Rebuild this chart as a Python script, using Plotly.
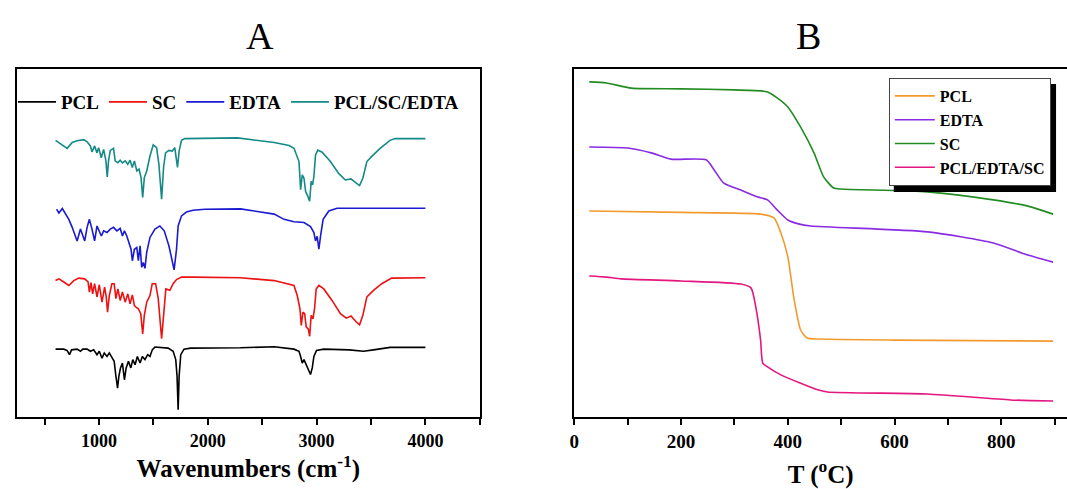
import plotly.graph_objects as go

# ---------------- Panel A : FTIR spectra (transmittance, a.u.) ----------------
pcl_wn = [600, 676, 707, 728, 747, 798, 829, 850, 890, 920, 950, 981, 1002, 1027, 1048, 1073, 1094,
          1118, 1139, 1155, 1170, 1182, 1197, 1215, 1233, 1249, 1270, 1292, 1310, 1331, 1352, 1377,
          1398, 1422, 1447, 1468, 1489, 1514, 1635, 1681, 1705, 1717, 1727, 1736, 1751, 1781, 1842,
          2300, 2610, 2792, 2838, 2853, 2868, 2884, 2899, 2923, 2944, 2960, 2975, 2999, 3066, 3300,
          3431, 3523, 3675, 4000]
pcl_t = [19.5, 19.5, 19.1, 17.9, 19.3, 19.5, 18.9, 19.5, 19.5, 18.9, 19.3, 17.9, 18.9, 16.9, 18.4,
         17.4, 18.4, 16.9, 16.0, 11.7, 8.3, 11.7, 14.1, 15.5, 10.7, 14.1, 16.0, 14.1, 16.5, 15.0,
         17.4, 15.5, 17.4, 16.5, 17.9, 17.4, 19.3, 20.1, 19.8, 18.9, 16.5, 11.7, 2.1, 11.7, 17.9,
         19.5, 19.8, 19.9, 20.2, 19.5, 18.9, 17.4, 15.5, 16.5, 15.5, 14.1, 12.2, 14.1, 17.4, 19.1,
         19.5, 19.3, 18.9, 19.3, 20.0, 20.0]

sc_wn = [600, 631, 676, 722, 768, 813, 868, 899, 911, 926, 941, 959, 981, 1002, 1027, 1051, 1066,
         1078, 1094, 1118, 1139, 1155, 1173, 1194, 1215, 1240, 1264, 1285, 1306, 1325, 1340, 1361,
         1383, 1401, 1416, 1438, 1468, 1489, 1520, 1544, 1575, 1596, 1614, 1651, 1681, 1712, 1758,
         1864, 1970, 2300, 2610, 2731, 2792, 2822, 2847, 2859, 2874, 2890, 2905, 2923, 2936, 2950,
         2966, 2981, 2996, 3021, 3066, 3142, 3219, 3273, 3316, 3365, 3395, 3425, 3462, 3523, 3599,
         3690, 4000]
sc_t = [19.2, 19.7, 18.8, 17.8, 19.2, 19.9, 19.7, 18.8, 15.9, 18.6, 15.4, 18.3, 14.5, 18.0, 13.0,
        17.3, 14.5, 10.1, 14.9, 18.3, 18.3, 14.0, 16.8, 13.5, 15.9, 13.0, 15.4, 12.5, 15.1, 12.0,
        11.6, 11.1, 9.7, 3.9, 9.2, 13.0, 14.9, 18.3, 18.3, 14.0, 2.5, 11.1, 16.8, 16.4, 18.3, 19.5,
        20.2, 20.2, 20.2, 20.0, 19.2, 18.3, 17.8, 14.9, 11.1, 6.3, 10.1, 9.7, 5.8, 5.3, 3.2, 9.2,
        8.2, 11.1, 16.8, 17.8, 16.8, 13.5, 9.7, 8.4, 9.0, 7.3, 6.5, 9.2, 14.5, 16.4, 18.3, 19.9,
        20.0]

edta_wn = [610, 631, 662, 686, 722, 753, 798, 829, 844, 868, 890, 911, 935, 959, 981, 1002, 1021,
           1042, 1073, 1103, 1133, 1164, 1194, 1215, 1233, 1255, 1276, 1294, 1306, 1325, 1347, 1361,
           1377, 1392, 1407, 1422, 1438, 1468, 1514, 1559, 1599, 1642, 1672, 1690, 1712, 1727, 1758,
           1803, 1864, 1973, 2300, 2610, 2701, 2792, 2884, 2944, 2975, 2990, 3005, 3021, 3036, 3060,
           3112, 3188, 4000]
edta_t = [19.7, 18.6, 19.9, 18.7, 16.8, 14.5, 10.6, 14.0, 12.5, 10.6, 14.5, 16.8, 14.0, 10.6, 14.9,
          13.5, 12.0, 13.5, 13.0, 14.0, 14.5, 13.5, 14.2, 12.0, 13.5, 12.0, 9.7, 8.2, 4.9, 8.2, 8.7,
          4.9, 9.2, 3.0, 4.4, 2.7, 7.3, 11.6, 14.0, 14.9, 13.5, 9.2, 4.9, 2.3, 8.2, 14.9, 17.8, 18.9,
          19.4, 19.7, 19.8, 18.3, 16.8, 16.1, 15.9, 14.7, 13.0, 10.6, 11.9, 8.2, 12.0, 16.8, 19.2,
          20.0, 20.0]

blend_wn = [600, 646, 707, 753, 798, 859, 890, 920, 935, 959, 981, 996, 1020, 1042, 1063, 1075, 1087,
            1103, 1133, 1148, 1173, 1194, 1215, 1240, 1264, 1285, 1306, 1325, 1347, 1368, 1386, 1401,
            1416, 1438, 1468, 1498, 1529, 1550, 1575, 1593, 1611, 1642, 1672, 1696, 1721, 1736, 1758,
            1788, 2000, 2272, 2610, 2747, 2792, 2822, 2838, 2853, 2868, 2884, 2899, 2920, 2936, 2950,
            2963, 2975, 2990, 3011, 3051, 3127, 3203, 3264, 3316, 3365, 3395, 3425, 3462, 3507, 3584,
            3675, 3721, 4000]
blend_t = [19.5, 18.4, 17.2, 18.9, 19.4, 19.7, 19.1, 17.9, 16.2, 17.9, 15.9, 17.4, 14.5, 16.9, 13.6,
           9.0, 13.6, 16.6, 17.2, 13.6, 13.1, 13.8, 13.0, 13.6, 12.6, 13.8, 11.7, 13.6, 10.7, 11.2, 8.8,
           3.1, 8.8, 10.7, 15.0, 18.2, 17.4, 12.6, 2.6, 11.7, 15.9, 16.6, 16.4, 17.4, 11.7, 16.4, 19.5,
           20.0, 20.1, 20.2, 18.9, 18.0, 17.2, 14.4, 13.4, 5.3, 9.6, 8.6, 4.8, 3.4, 2.0, 7.7, 6.7, 9.1,
           15.3, 16.7, 16.1, 13.4, 10.0, 8.1, 8.4, 7.2, 6.5, 8.6, 13.4, 14.9, 17.2, 19.5, 20.0, 20.0]

ftir_names = ["PCL", "SC", "EDTA", "PCL/SC/EDTA"]
ftir_colors = ["#000000", "#ee1111", "#1a1ad0", "#138a85"]
ftir_offsets = [0, 20, 40, 60]

# ---------------- Panel B : TGA curves ----------------
tga_pcl_T = [28, 200, 349, 374, 387, 400, 411, 424, 436, 461, 600, 897]
tga_pcl_w = [59.2, 58.8, 58.3, 57.2, 52.9, 46.0, 34.5, 25.0, 22.7, 22.4, 22.1, 21.8]

tga_edta_T = [28, 100, 144, 181, 247, 262, 280, 312, 344, 362, 380, 400, 420, 443, 662, 785, 848, 897]
tga_edta_w = [77.6, 77.3, 75.9, 74.1, 73.9, 71.0, 67.2, 65.2, 63.2, 62.4, 59.5, 56.6, 55.5, 54.9,
              53.2, 50.0, 46.6, 44.5]

tga_sc_T = [28, 60, 107, 200, 300, 350, 362, 380, 400, 424, 449, 467, 486, 500, 661, 785, 850, 897]
tga_sc_w = [96.3, 96.0, 94.5, 94.3, 94.0, 93.7, 93.4, 91.7, 89.1, 83.3, 75.9, 69.0, 65.8, 65.5,
            64.7, 62.4, 60.6, 58.3]

tga_blend_T = [28, 60, 88, 200, 312, 331, 340, 349, 353, 362, 387, 456, 474, 661, 817, 897]
tga_blend_w = [40.5, 40.2, 39.7, 39.1, 38.2, 37.1, 31.6, 22.1, 15.5, 14.4, 12.1, 7.8, 7.2, 6.6, 4.9, 4.6]

tga_names = ["PCL", "EDTA", "SC", "PCL/EDTA/SC"]
tga_colors = ["#f39a2e", "#8a2be2", "#228b22", "#e3177f"]

FONT = "Liberation Serif"

fig = go.Figure()

ftir_data = [(pcl_wn, pcl_t), (sc_wn, sc_t), (edta_wn, edta_t), (blend_wn, blend_t)]
for (wn, t), name, col, off in zip(ftir_data, ftir_names, ftir_colors, ftir_offsets):
    fig.add_trace(go.Scatter(x=wn, y=[v + off for v in t], mode="lines", name=name,
                             line=dict(color=col, width=1.6), xaxis="x", yaxis="y",
                             legend="legend"))

tga_data = [(tga_pcl_T, tga_pcl_w), (tga_edta_T, tga_edta_w), (tga_sc_T, tga_sc_w),
            (tga_blend_T, tga_blend_w)]
for (T, w), name, col in zip(tga_data, tga_names, tga_colors):
    fig.add_trace(go.Scatter(x=T, y=w, mode="lines", name=name,
                             line=dict(color=col, width=1.6, shape="spline", smoothing=0.6),
                             xaxis="x2", yaxis="y2", legend="legend2"))

W, H = 1067, 489
top, bottom = 69, 417
PH = bottom - top


def py(p):
    """pixel row -> paper fraction"""
    return (bottom - p) / PH


axfont = dict(family=FONT, size=18, color="black", weight="bold")

fig.update_layout(
    width=W, height=H,
    margin=dict(l=0, r=0, t=top, b=H - bottom),
    paper_bgcolor="white", plot_bgcolor="white",
    xaxis=dict(domain=[12 / W, 477 / W], range=[245, 4500], showline=True, linecolor="black",
               linewidth=2, mirror=True, ticks="outside", ticklen=6, tickwidth=1.5,
               tickcolor="black", tickvals=[1000, 2000, 3000, 4000], tickfont=axfont,
               minor=dict(dtick=500, tick0=0, ticks="outside", ticklen=6, tickwidth=1.5,
                          tickcolor="black"),
               showgrid=False, zeroline=False,
               title=dict(text="Wavenumbers (cm<sup>-1</sup>)", standoff=4,
                          font=dict(family=FONT, size=25, color="black", weight="bold"))),
    yaxis=dict(domain=[0, 1], range=[0, 100], showline=True, linecolor="black", linewidth=2,
               mirror=True, showticklabels=False, ticks="", showgrid=False, zeroline=False),
    xaxis2=dict(domain=[572 / W, 1.0], range=[0, 923], showline=True, linecolor="black",
                linewidth=2, mirror=True, ticks="outside", ticklen=6, tickwidth=1.5,
                tickcolor="black", dtick=200, tick0=0, tickfont=dict(family=FONT, size=19,
                                                                     color="black", weight="bold"),
                minor=dict(dtick=100, tick0=0, ticks="outside", ticklen=6, tickwidth=1.5,
                           tickcolor="black"),
                showgrid=False, zeroline=False,
                title=dict(text="T (<sup>o</sup>C)", standoff=16,
                           font=dict(family=FONT, size=25, color="black", weight="bold"))),
    yaxis2=dict(domain=[0, 1], range=[0, 100], anchor="x2", showline=True, linecolor="black",
                linewidth=2, mirror=False, showticklabels=False, ticks="", showgrid=False,
                zeroline=False),
    legend=dict(orientation="h", x=8 / W, y=py(83), xanchor="left", yanchor="top",
                font=dict(family=FONT, size=19, color="black", weight="bold"), itemwidth=38,
                bgcolor="rgba(0,0,0,0)", itemclick=False, traceorder="normal"),
    legend2=dict(x=888 / W, y=py(78), xanchor="left", yanchor="top",
                 font=dict(family=FONT, size=16, color="black", weight="bold"), itemwidth=40,
                 bgcolor="white", bordercolor="#444444", borderwidth=1, tracegroupgap=0,
                 traceorder="normal"),
    annotations=[
        dict(text="A", x=240 / W, y=py(36), xref="paper", yref="paper", yanchor="middle",
             showarrow=False, font=dict(family=FONT, size=38, color="black")),
        dict(text="B", x=822 / W, y=py(36), xref="paper", yref="paper", yanchor="middle",
             showarrow=False, font=dict(family=FONT, size=38, color="black")),
    ],
    shapes=[
        # drop shadow behind the TGA legend box
        dict(type="rect", xref="paper", yref="paper", layer="above",
             x0=893 / W, x1=1056 / W, y0=py(192), y1=py(84),
             fillcolor="black", line=dict(width=0)),
    ],
)

fig.write_html("out.html")
